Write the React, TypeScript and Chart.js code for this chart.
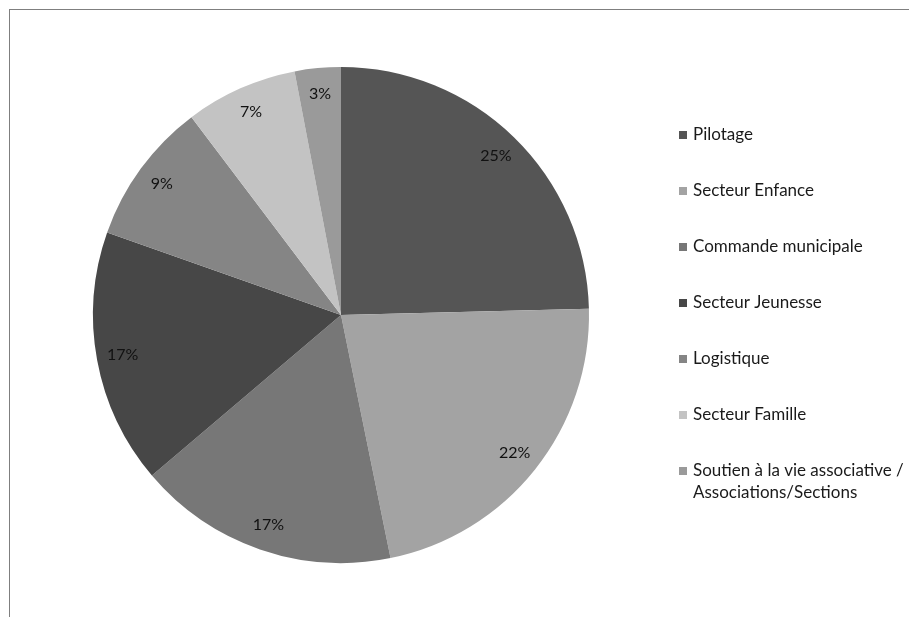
import React, { useEffect, useRef } from "react";
import { Chart, registerables } from "chart.js";

Chart.register(...registerables);

const categories: (string | string[])[] = [
  "Pilotage",
  "Secteur Enfance",
  "Commande municipale",
  "Secteur Jeunesse",
  "Logistique",
  "Secteur Famille",
  ["Soutien à la vie associative /", "Associations/Sections"],
];
const shares = [24.6, 22.2, 17.0, 16.6, 9.3, 7.3, 3.0];
const sliceColors = ["#555555", "#a3a3a3", "#777777", "#474747", "#858585", "#c3c3c3", "#9a9a9a"];

const FONT = "Lato, 'Open Sans', sans-serif";

const labelPlugin = {
  id: "pctLabels",
  afterDatasetsDraw(chart: any) {
    const ctx = chart.ctx;
    const meta = chart.getDatasetMeta(0);
    const data = chart.data.datasets[0].data as number[];
    const total = data.reduce((a, b) => a + b, 0);
    ctx.save();
    ctx.font = `16px ${FONT}`;
    ctx.fillStyle = "#111111";
    ctx.textAlign = "center";
    ctx.textBaseline = "middle";
    meta.data.forEach((arc: any, i: number) => {
      const p = arc.getProps(["x", "y", "startAngle", "endAngle", "outerRadius"], true);
      const mid = (p.startAngle + p.endAngle) / 2;
      const r = p.outerRadius * 0.895;
      const x = p.x + Math.cos(mid) * r;
      const y = p.y + Math.sin(mid) * r;
      ctx.fillText(Math.round((data[i] / total) * 100) + "%", x, y);
    });
    ctx.restore();
  },
};

const legendPlugin = {
  id: "sideLegend",
  afterDraw(chart: any) {
    const ctx = chart.ctx;
    const labels = chart.data.labels as (string | string[])[];
    const colors = chart.data.datasets[0].backgroundColor as string[];
    const x0 = 679;
    const y0 = 135;
    const step = 56;
    const lineH = 22;
    ctx.save();
    ctx.font = `17px ${FONT}`;
    ctx.textBaseline = "middle";
    ctx.textAlign = "left";
    labels.forEach((lab, i) => {
      const y = y0 + i * step;
      ctx.fillStyle = colors[i];
      ctx.fillRect(x0, y - 4, 8, 8);
      ctx.fillStyle = "#1a1a1a";
      const lines = Array.isArray(lab) ? lab : [lab];
      lines.forEach((t, j) => ctx.fillText(t, x0 + 14, y + j * lineH));
    });
    ctx.restore();
  },
};

export default function App() {
  const ref = useRef<HTMLCanvasElement | null>(null);
  useEffect(() => {
    if (!ref.current) return;
    const chart = new Chart(ref.current, {
      type: "pie",
      data: {
        labels: categories,
        datasets: [
          {
            data: shares,
            backgroundColor: sliceColors,
            borderWidth: 0,
            hoverOffset: 0,
          },
        ],
      },
      options: {
        responsive: false,
        animation: false,
        layout: { padding: { left: 93, right: 320, top: 67, bottom: 54 } },
        plugins: { legend: { display: false }, tooltip: { enabled: false } },
      },
      plugins: [labelPlugin, legendPlugin],
    });
    return () => chart.destroy();
  }, []);
  return (
    <>
      <div
        style={{
          position: "fixed",
          left: 9,
          top: 9,
          right: -5,
          bottom: -5,
          borderTop: "1px solid #7f7f7f",
          borderLeft: "1px solid #7f7f7f",
        }}
      />
      <canvas
        ref={ref}
        width={909}
        height={617}
        style={{ position: "fixed", left: 0, top: 0, width: 909, height: 617 }}
      />
    </>
  );
}
